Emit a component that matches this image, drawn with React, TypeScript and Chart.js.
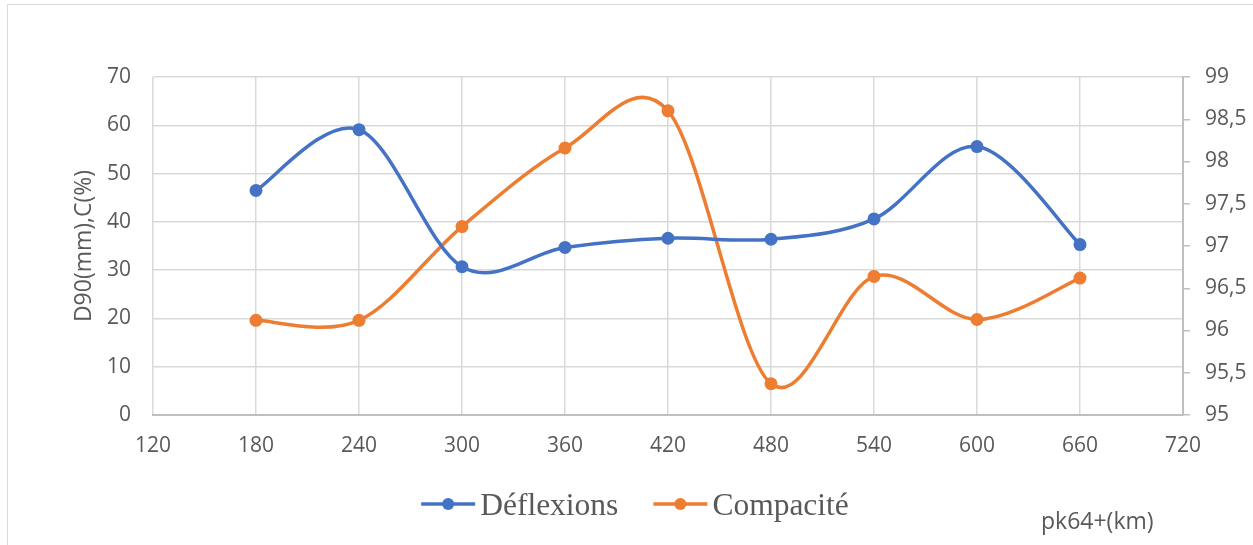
import React, { useEffect, useRef } from "react";
import { Chart, registerables } from "chart.js";

Chart.register(...registerables);

// ---- data ----
const positions = [180, 240, 300, 360, 420, 480, 540, 600, 660];
const deflexions = [46.5, 59.1, 30.7, 34.7, 36.6, 36.4, 40.6, 55.6, 35.3];
const compacite = [96.12, 96.12, 97.23, 98.16, 98.6, 95.37, 96.64, 96.13, 96.62];
const seriesNames = ["Déflexions", "Compacité"];
const seriesColors = ["#4472C4", "#ED7D31"];
const leftAxisTitle = "D90(mm),C(%)";
const xAxisTitle = "pk64+(km)";

const TEXT = "#595959";
const GRID = "#d9d9d9";
const AXIS = "#bfbfbf";
const SANS = "'Open Sans', sans-serif";
const SERIF = "'Liberation Serif', 'Times New Roman', serif";

// Excel-like smoothing (Catmull-Rom control points from the library's pixel positions)
const smoothPlugin = {
  id: "excelSmooth",
  beforeDatasetsDraw(chart: any) {
    chart.data.datasets.forEach((_: any, i: number) => {
      const meta = chart.getDatasetMeta(i);
      const pts = meta.data as any[];
      const n = pts.length;
      for (let k = 0; k < n; k++) {
        const p = pts[k];
        const prev = pts[Math.max(k - 1, 0)];
        const next = pts[Math.min(k + 1, n - 1)];
        const dx = (next.x - prev.x) / 6;
        const dy = (next.y - prev.y) / 6;
        p.cp1x = p.x - dx;
        p.cp1y = p.y - dy;
        p.cp2x = p.x + dx;
        p.cp2y = p.y + dy;
      }
      if (meta.dataset) {
        meta.dataset._pointsUpdated = true;
        meta.dataset._path = undefined;
      }
    });
  },
};

const legendPlugin = {
  id: "customLegend",
  afterDraw(chart: any) {
    const ctx = chart.ctx as CanvasRenderingContext2D;
    const datasets = chart.data.datasets;
    ctx.save();
    ctx.font = `31.5px ${SERIF}`;
    const lineLen = 54;
    const textGap = 5;
    const itemGap = 35;
    const widths = datasets.map((d: any) => lineLen + textGap + ctx.measureText(d.label).width);
    const total = widths.reduce((a: number, b: number) => a + b, 0) + itemGap * (datasets.length - 1);
    let x = 635 - total / 2;
    const y = 504;
    datasets.forEach((d: any, i: number) => {
      ctx.strokeStyle = d.borderColor;
      ctx.lineWidth = 3.5;
      ctx.beginPath();
      ctx.moveTo(x, y);
      ctx.lineTo(x + lineLen, y);
      ctx.stroke();
      ctx.fillStyle = d.borderColor;
      ctx.beginPath();
      ctx.arc(x + lineLen / 2, y, 6, 0, Math.PI * 2);
      ctx.fill();
      ctx.fillStyle = TEXT;
      ctx.textBaseline = "alphabetic";
      ctx.textAlign = "left";
      ctx.fillText(d.label, x + lineLen + textGap, 515);
      x += widths[i] + itemGap;
    });
    // x axis title
    ctx.font = `23px ${SANS}`;
    ctx.fillStyle = TEXT;
    ctx.fillText(xAxisTitle, 1041, 529);
    ctx.restore();
  },
};

export default function App() {
  const canvasRef = useRef<HTMLCanvasElement | null>(null);

  useEffect(() => {
    const prevMargin = document.body.style.margin;
    document.body.style.margin = "0";
    const canvas = canvasRef.current!;
    const chart = new Chart(canvas, {
      type: "line",
      data: {
        datasets: [
          {
            label: seriesNames[0],
            data: positions.map((x, i) => ({ x, y: deflexions[i] })),
            borderColor: seriesColors[0],
            backgroundColor: seriesColors[0],
            pointBackgroundColor: seriesColors[0],
            pointBorderWidth: 0,
            pointRadius: 6.5,
            borderWidth: 3.5,
            tension: 0.4,
            yAxisID: "y",
          },
          {
            label: seriesNames[1],
            data: positions.map((x, i) => ({ x, y: compacite[i] })),
            borderColor: seriesColors[1],
            backgroundColor: seriesColors[1],
            pointBackgroundColor: seriesColors[1],
            pointBorderWidth: 0,
            pointRadius: 6.5,
            borderWidth: 3.5,
            tension: 0.4,
            yAxisID: "y2",
          },
        ],
      },
      options: {
        animation: false,
        responsive: false,
        maintainAspectRatio: false,
        events: [],
        layout: { padding: { top: 77, left: 0, right: 0, bottom: 0 } },
        plugins: {
          legend: { display: false },
          tooltip: { enabled: false },
        },
        scales: {
          x: {
            type: "linear",
            min: 120,
            max: 720,
            ticks: {
              stepSize: 60,
              color: TEXT,
              font: { family: SANS, size: 21 },
              padding: 18,
              maxRotation: 0,
            },
            grid: { color: GRID, lineWidth: 1.5, drawTicks: false },
            border: { display: true, color: AXIS, width: 2 },
            afterFit(scale: any) {
              scale.height = 130;
            },
          },
          y: {
            type: "linear",
            position: "left",
            min: 0,
            max: 70,
            ticks: {
              stepSize: 10,
              color: TEXT,
              font: { family: SANS, size: 21 },
              padding: 22,
            },
            grid: { color: GRID, lineWidth: 1.5, drawTicks: false },
            border: { display: false },
            title: {
              display: true,
              text: leftAxisTitle,
              color: TEXT,
              font: { family: SANS, size: 23 },
              padding: { top: 71, bottom: 0 },
            },
            afterFit(scale: any) {
              scale.width = 153;
            },
          },
          y2: {
            type: "linear",
            position: "right",
            min: 95,
            max: 99,
            ticks: {
              stepSize: 0.5,
              color: TEXT,
              font: { family: SANS, size: 21 },
              padding: 15,
              callback: (v: any) => String(v).replace(".", ","),
            },
            grid: { drawOnChartArea: false, drawTicks: true, tickLength: 7, color: AXIS, lineWidth: 1.5 },
            border: { display: true, color: AXIS, width: 2 },
            afterFit(scale: any) {
              scale.width = 70;
            },
          },
        },
      },
      plugins: [smoothPlugin, legendPlugin],
    } as any);
    return () => {
      chart.destroy();
      document.body.style.margin = prevMargin;
    };
  }, []);

  return (
    <div style={{ position: "relative", width: 1253, height: 545, overflow: "hidden", background: "#fff" }}>
      <div
        style={{
          position: "absolute",
          left: 7,
          top: 4,
          width: 1260,
          height: 560,
          border: "1px solid #d9d9d9",
          boxSizing: "border-box",
        }}
      />
      <canvas ref={canvasRef} width={1253} height={545} style={{ position: "absolute", left: 0, top: 0, width: 1253, height: 545 }} />
    </div>
  );
}
